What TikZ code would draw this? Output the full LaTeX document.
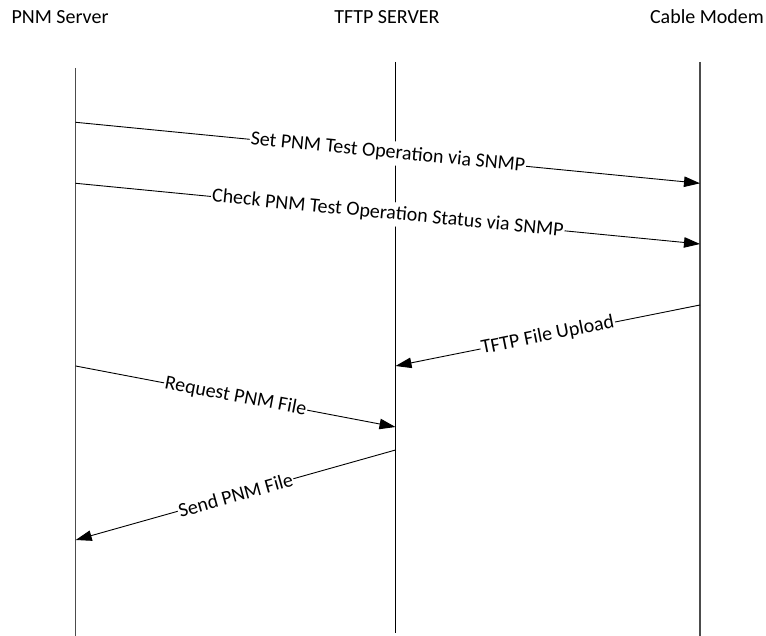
\documentclass[tikz,border=0pt]{standalone}
\usepackage{fontspec}
\setmainfont{Carlito}
\usetikzlibrary{arrows.meta}
\begin{document}
\begin{tikzpicture}[x=1pt,y=-1pt,
  header/.style={font=\fontsize{20}{24}\selectfont, inner sep=0pt, anchor=base},
  lifeline/.style={line width=1.1pt, black!70},
  midline/.style={line width=0.8pt, black},
  msg/.style={line width=0.9pt, -{Triangle[length=16pt,width=10.5pt]}},
  msglabel/.style={sloped, fill=white, inner xsep=1pt, inner ysep=3.5pt,
    font=\fontsize{20}{24}\selectfont}]
  \useasboundingbox (0,0) rectangle (766,636);

  % participants
  \node[header] (hP) at (60,24) {PNM Server};
  \node[header] (hT) at (387,24) {TFTP SERVER};
  \node[header] (hC) at (707,24) {Cable Modem};

  % lifeline ends
  \coordinate (pTop) at (75.7,68);  \coordinate (pBot) at (75.7,636);
  \coordinate (tTop) at (395.5,62); \coordinate (tBot) at (395.5,633);
  \coordinate (cTop) at (700,62);   \coordinate (cBot) at (700,636);
  \draw[lifeline] (pTop) -- (pBot);
  \draw[lifeline] (cTop) -- (cBot);

  % message anchor points on the lifelines
  \coordinate (p1) at (75.7,122.3); \coordinate (c1) at (700,183.3);
  \coordinate (p2) at (75.7,183.3); \coordinate (c2) at (700,244);
  \coordinate (c3) at (700,305);    \coordinate (t3) at (395.5,366);
  \coordinate (p4) at (75.7,366);   \coordinate (t4) at (395.5,427);
  \coordinate (t5) at (395.5,450);  \coordinate (p5) at (75.7,540);

  % the middle lifeline is drawn first so the labels break it
  \draw[midline] (tTop) -- (tBot);

  % messages
  \draw[msg] (p1) -- node[msglabel] (m1) {Set PNM Test Operation via SNMP} (c1);
  \draw[msg] (p2) -- node[msglabel] (m2) {Check PNM Test Operation Status via SNMP} (c2);
  \draw[msg] (c3) -- node[msglabel] (m3) {TFTP File Upload} (t3);
  \draw[msg] (p4) -- node[msglabel] (m4) {Request PNM File} (t4);
  \draw[msg] (t5) -- node[msglabel] (m5) {Send PNM File} (p5);
\end{tikzpicture}
\end{document}
